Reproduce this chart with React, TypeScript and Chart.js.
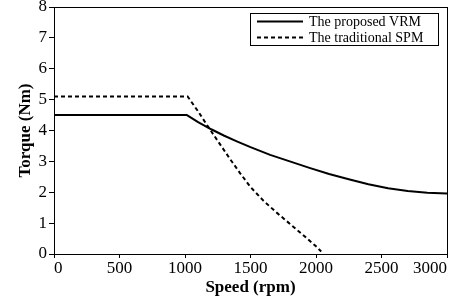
import React, { useEffect, useRef } from "react";
import { Chart, registerables } from "chart.js";

Chart.register(...registerables);

const vrmSpeed = [0, 1015, 1100, 1200, 1300, 1400, 1500, 1650, 1800, 1950, 2100, 2250, 2400, 2550, 2700, 2850, 3000];
const vrmTorque = [4.5, 4.5, 4.27, 4.04, 3.83, 3.64, 3.46, 3.21, 3.0, 2.79, 2.59, 2.42, 2.26, 2.13, 2.04, 1.98, 1.96];
const spmSpeed = [0, 1020, 1100, 1180, 1260, 1340, 1420, 1500, 1600, 1700, 1800, 1900, 2000, 2040];
const spmTorque = [5.1, 5.1, 4.62, 4.1, 3.6, 3.1, 2.62, 2.17, 1.72, 1.34, 0.98, 0.62, 0.25, 0.08];
const seriesLabels = ["The proposed VRM", "The traditional SPM"];
const xTicks = [0, 500, 1000, 1500, 2000, 2500, 3000];
const yTicks = [0, 1, 2, 3, 4, 5, 6, 7, 8];

const FONT = "'Liberation Serif', 'Times New Roman', serif";

const framePlugin = {
  id: "frameLegend",
  afterDraw(chart: any) {
    const { ctx, chartArea } = chart;
    ctx.save();
    ctx.strokeStyle = "#000";
    ctx.lineWidth = 1;
    ctx.strokeRect(chartArea.left + 0.5, chartArea.top + 0.5, chartArea.right - chartArea.left, chartArea.bottom - chartArea.top);
    // legend box
    const bx = 250.5, by = 13.5, bw = 188, bh = 32;
    ctx.fillStyle = "#fff";
    ctx.fillRect(bx, by, bw, bh);
    ctx.strokeRect(bx, by, bw, bh);
    ctx.font = `14px ${FONT}`;
    ctx.textBaseline = "middle";
    chart.data.datasets.forEach((ds: any, i: number) => {
      const y = by + 8 + i * 16;
      ctx.beginPath();
      ctx.setLineDash(ds.borderDash || []);
      ctx.lineWidth = ds.borderWidth;
      ctx.strokeStyle = "#000";
      ctx.moveTo(257, y);
      ctx.lineTo(303, y);
      ctx.stroke();
      ctx.setLineDash([]);
      ctx.fillStyle = "#000";
      ctx.fillText(ds.label, 309, y + 0.5);
    });
    ctx.restore();
  },
};

export default function App() {
  const ref = useRef<HTMLCanvasElement>(null);
  useEffect(() => {
    const chart = new Chart(ref.current!, {
      type: "line",
      data: {
        datasets: [
          {
            label: seriesLabels[0],
            data: vrmSpeed.map((x, i) => ({ x, y: vrmTorque[i] })),
            borderColor: "#000",
            borderWidth: 2,
            pointRadius: 0,
            tension: 0,
            borderJoinStyle: "round",
            fill: false,
          },
          {
            label: seriesLabels[1],
            data: spmSpeed.map((x, i) => ({ x, y: spmTorque[i] })),
            borderColor: "#000",
            borderWidth: 2,
            borderDash: [4, 3],
            pointRadius: 0,
            tension: 0,
            fill: false,
          },
        ],
      },
      options: {
        animation: false,
        responsive: false,
        layout: { padding: { top: 7, right: 14, left: 0, bottom: 0 } },
        plugins: { legend: { display: false }, tooltip: { enabled: false } },
        scales: {
          x: {
            type: "linear",
            min: 0,
            max: 3000,
            afterBuildTicks: (s: any) => { s.ticks = xTicks.map((v) => ({ value: v })); },
            afterFit: (s: any) => { s.height = 44; s.paddingLeft = 0; s.paddingRight = 0; },
            grid: { display: true, drawOnChartArea: false, drawTicks: true, tickLength: 4, color: "#000" },
            border: { color: "#000", width: 1 },
            ticks: { color: "#000", font: { family: FONT, size: 17 }, padding: 0, maxRotation: 0, align: "inner", callback: (v: any) => String(v) },
            title: { display: true, text: "Speed (rpm)", color: "#000", font: { family: FONT, size: 17, weight: "bold" }, padding: { top: 0, bottom: 0 } },
          },
          y: {
            type: "linear",
            min: 0,
            max: 8,
            afterBuildTicks: (s: any) => { s.ticks = yTicks.map((v) => ({ value: v })); },
            afterFit: (s: any) => { s.width = 54; s.paddingTop = 0; s.paddingBottom = 0; },
            grid: { display: true, drawOnChartArea: false, drawTicks: true, tickLength: 5, color: "#000" },
            border: { color: "#000", width: 1 },
            ticks: { color: "#000", font: { family: FONT, size: 17 }, padding: 2, callback: (v: any) => String(v) },
            title: { display: true, text: "Torque (Nm)", color: "#000", font: { family: FONT, size: 17, weight: "bold" }, padding: { top: 15, bottom: 4 } },
          },
        },
      },
      plugins: [framePlugin],
    } as any);
    return () => chart.destroy();
  }, []);
  return (
    <div style={{ position: "fixed", left: 0, top: 0, width: 461, height: 298, background: "#fff" }}>
      <canvas ref={ref} width={461} height={298} />
    </div>
  );
}
